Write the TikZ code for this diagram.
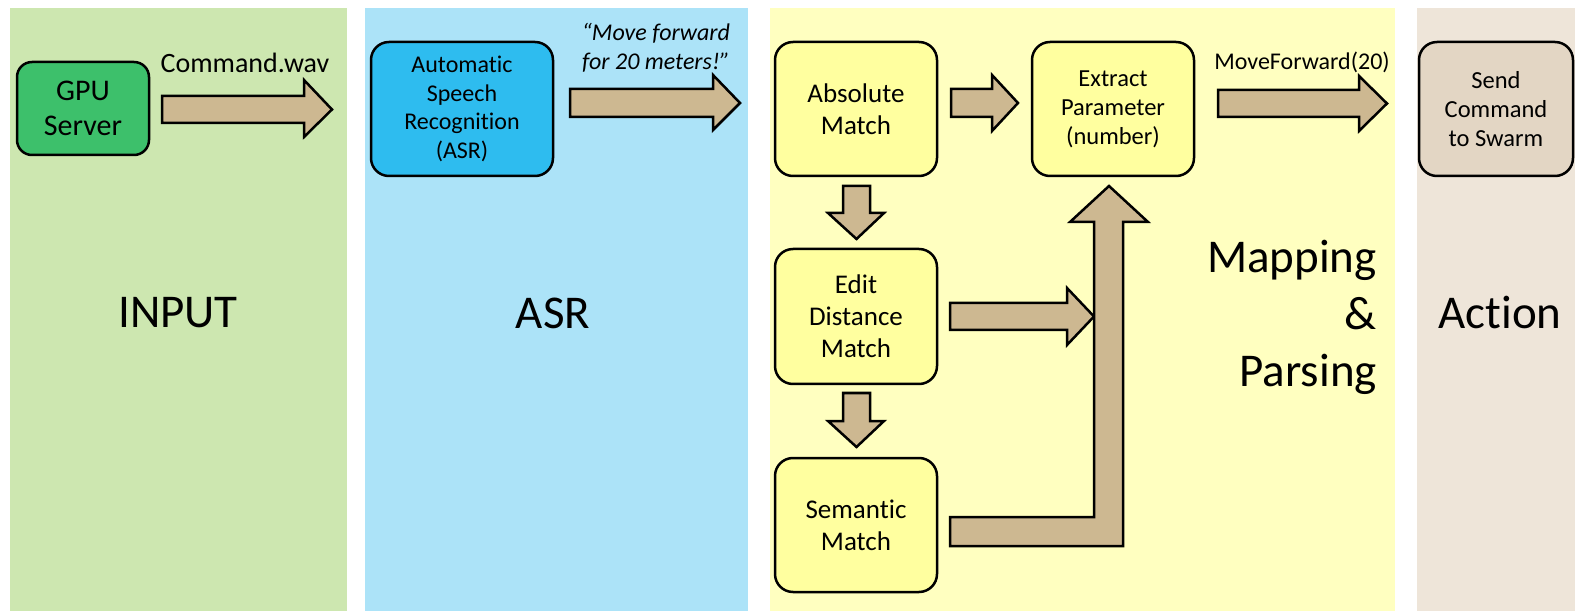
\documentclass[tikz,border=0pt]{standalone}
\usepackage{fontspec}
\setmainfont{Carlito}[Ligatures={NoCommon,NoRequired,NoContextual}]
\definecolor{pgreen}{HTML}{CDE7B0}
\definecolor{pblue}{HTML}{ACE3F8}
\definecolor{pyellow}{HTML}{FFFFC0}
\definecolor{pbeige}{HTML}{EEE5D9}
\definecolor{ngreen}{HTML}{3DC06B}
\definecolor{nblue}{HTML}{2EBCEF}
\definecolor{nyellow}{HTML}{FFFF9F}
\definecolor{nbeige}{HTML}{E3D6C4}
\definecolor{atan}{HTML}{CDB891}
\newcommand\myfs[2]{\fontsize{#1}{#2}\selectfont}
\tikzset{
  panel/.style={draw=none},
  box/.style={draw=black, line width=2.5pt, rounded corners=18pt, align=center, inner sep=0pt,
    minimum width=162pt, minimum height=134pt},
  blockarr/.style={draw=black, line width=2.5pt, fill=atan, line join=miter, miter limit=10},
  biglabel/.style={font=\myfs{47}{57}, align=center},
  lbl/.style={font=\myfs{24}{29}, align=center}
}
\begin{document}
\begin{tikzpicture}[x=1pt,y=-1pt]
\useasboundingbox (0,0) rectangle (1575,612);
% panels
\fill[pgreen] (10,8) rectangle (347,611);
\fill[pblue] (365,8) rectangle (748,611);
\fill[pyellow] (770,8) rectangle (1395,611);
\fill[pbeige] (1417,8) rectangle (1575,611);
% panel titles
\node[biglabel] (tinput) at (178,313) {INPUT};
\node[biglabel] (tasr) at (553,313) {ASR};
\node[biglabel] (taction) at (1500,313) {Action};
\node[font=\myfs{47}{57}, align=right, anchor=base east, inner sep=0pt] (tmap) at (1377,386) {Mapping\\\&\\Parsing};
% nodes
\node[box, fill=ngreen, minimum width=132pt, minimum height=93pt, rounded corners=15pt, font=\myfs{30}{35}] (gpu) at (83,108.5) {GPU\\Server};
\node[box, fill=nblue, minimum width=182pt, font=\myfs{24}{28.7}] (asr) at (462,109) {Automatic\\Speech\\Recognition\\(ASR)};
\node[box, fill=nyellow, font=\myfs{27}{32}] (abs) at (856,109) {Absolute\\Match};
\node[box, fill=nyellow, font=\myfs{24.5}{29}] (ext) at (1113,109) {Extract\\Parameter\\(number)};
\node[box, fill=nyellow, minimum height=135pt, font=\myfs{27}{32}] (edit) at (856,316.5) {Edit\\Distance\\Match};
\node[box, fill=nyellow, font=\myfs{27}{32}] (sem) at (856,525) {Semantic\\Match};
\node[box, fill=nbeige, minimum width=154pt, font=\myfs{24.5}{29}] (send) at (1496,109) {Send\\Command\\to Swarm};
% arrow labels
\node[font=\myfs{28}{33}] (lcmd) at (245,63) {Command.wav};
\node[font=\myfs{24}{29}\itshape, align=center] (lmove) at (656,48) {“Move forward\\for 20 meters!”};
\node[font=\myfs{24}{29}] (lmf) at (1302,62) {MoveForward(20)};
% block arrows
\draw[blockarr] (162,96) -- (304,96) -- (304,80) -- (332,109.5) -- (304,137) -- (304,123) -- (162,123) -- cycle;
\draw[blockarr] (570,89) -- (713,89) -- (713,75) -- (740,103) -- (713,130) -- (713,117) -- (570,117) -- cycle;
\draw[blockarr] (951,89) -- (992,89) -- (992,75) -- (1018,103) -- (992,131) -- (992,117) -- (951,117) -- cycle;
\draw[blockarr] (1218,90) -- (1359,90) -- (1359,76) -- (1387,103.5) -- (1359,131) -- (1359,117) -- (1218,117) -- cycle;
\draw[blockarr] (843,186) -- (870,186) -- (870,213) -- (884,213) -- (856.5,239) -- (828,213) -- (843,213) -- cycle;
\draw[blockarr] (843,393) -- (870,393) -- (870,421) -- (884,421) -- (856.5,447) -- (828,421) -- (843,421) -- cycle;
\draw[blockarr] (950,303) -- (1067,303) -- (1067,288) -- (1094,316.5) -- (1067,345) -- (1067,330) -- (950,330) -- cycle;
\draw[blockarr] (950,517) -- (1094,517) -- (1094,222) -- (1070,222) -- (1109,186) -- (1148,222) -- (1123,222) -- (1123,546) -- (950,546) -- cycle;
\end{tikzpicture}
\end{document}
